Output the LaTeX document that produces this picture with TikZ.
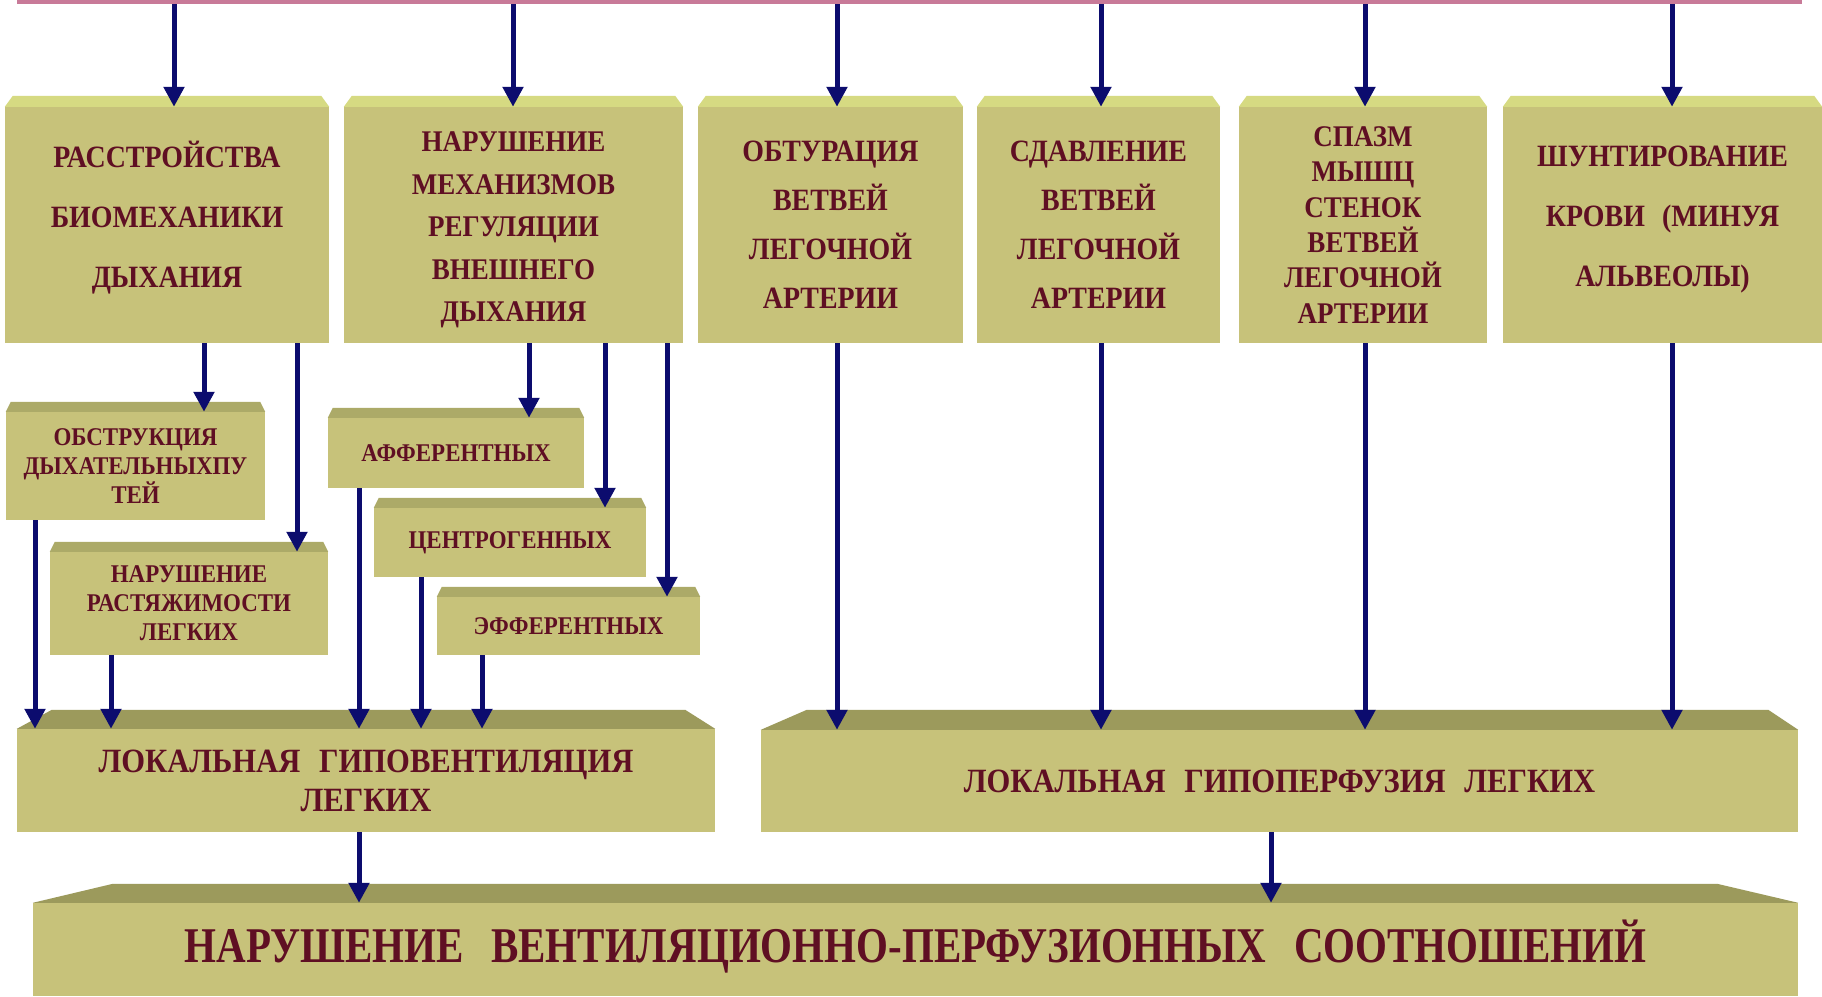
\documentclass[tikz,border=0pt]{standalone}
\usepackage{fontspec}
\setmainfont{Liberation Serif}[FakeStretch=0.9]
\newfontfamily\condfont{Liberation Serif}[FakeStretch=0.82]
\usetikzlibrary{arrows.meta}
\definecolor{facec}{RGB}{199,194,122}
\definecolor{lightbev}{RGB}{214,218,130}
\definecolor{darkbev}{RGB}{156,154,92}
\definecolor{midbev}{RGB}{172,170,104}
\definecolor{textc}{RGB}{95,15,35}
\definecolor{arrc}{RGB}{12,12,110}
\definecolor{pinkc}{RGB}{200,122,152}
% #1 node, #2 left slant, #3 right slant, #4 height, #5 colour
\newcommand{\bevtop}[5]{\fill[#5] (#1.north west) -- ([xshift=#2,yshift=#4]#1.north west) -- ([xshift=-#3,yshift=#4]#1.north east) -- (#1.north east) -- cycle;}
\newcommand{\wsp}{\hspace{0.55em}}
\begin{document}
\begin{tikzpicture}[x=1pt,y=-1pt,
  box/.style={fill=facec, inner sep=0pt, align=center, text=textc},
  txt/.style={inner sep=0pt, align=center, text=textc},
  topfont/.style={font=\bfseries\fontsize{31}{60}\selectfont},
  midfont/.style={font=\bfseries\fontsize{25.5}{29}\selectfont},
  lowfont/.style={font=\bfseries\fontsize{34}{39}\selectfont},
  arr/.style={draw=arrc, line width=5pt, -{Triangle[width=20pt,length=20pt]}}]
\useasboundingbox (0,0) rectangle (1822,996);
\fill[white] (0,0) rectangle (1822,996);
\node[fill=pinkc, inner sep=0pt, minimum width=1785pt, minimum height=4pt] (topbar) at (909.5,2) {};

% top row
\node[box, minimum width=324pt, minimum height=236pt] (b1) at (167,225) {};
\node[txt, topfont] (b1t) at ([yshift=7pt]b1.center) {РАССТРОЙСТВА\\БИОМЕХАНИКИ\\ДЫХАНИЯ};
\node[box, minimum width=339pt, minimum height=236pt] (b2) at (513.5,225) {};
\node[txt, font=\bfseries\fontsize{30}{42.5}\selectfont] (b2t) at ([yshift=-5pt]b2.center)
  {НАРУШЕНИЕ\\МЕХАНИЗМОВ\\РЕГУЛЯЦИИ\\ВНЕШНЕГО\\ДЫХАНИЯ};
\node[box, font=\bfseries\fontsize{31}{49}\selectfont, minimum width=265pt, minimum height=236pt] (b3) at (830.5,225)
  {ОБТУРАЦИЯ\\ВЕТВЕЙ\\ЛЕГОЧНОЙ\\АРТЕРИИ};
\node[box, font=\bfseries\fontsize{31}{49}\selectfont, minimum width=243pt, minimum height=236pt] (b4) at (1098.5,225)
  {СДАВЛЕНИЕ\\ВЕТВЕЙ\\ЛЕГОЧНОЙ\\АРТЕРИИ};
\node[box, font=\bfseries\fontsize{30}{35.3}\selectfont, minimum width=248pt, minimum height=236pt] (b5) at (1363,225)
  {СПАЗМ\\МЫШЦ\\СТЕНОК\\ВЕТВЕЙ\\ЛЕГОЧНОЙ\\АРТЕРИИ};
\node[box, minimum width=319pt, minimum height=236pt] (b6) at (1662.5,225) {};
\node[txt, topfont] (b6t) at ([yshift=5pt]b6.center) {ШУНТИРОВАНИЕ\\КРОВИ\wsp(МИНУЯ\\АЛЬВЕОЛЫ)};
\foreach \n in {b1,b2,b3,b4,b5,b6}{\bevtop{\n}{8pt}{8pt}{11pt}{lightbev}}

% middle boxes
\node[box, midfont, minimum width=259pt, minimum height=108pt] (m1) at (135.5,466)
  {ОБСТРУКЦИЯ\\ДЫХАТЕЛЬНЫХПУ\\ТЕЙ};
\node[box, midfont, minimum width=278pt, minimum height=103pt] (m2) at (189,603.5)
  {НАРУШЕНИЕ\\РАСТЯЖИМОСТИ\\ЛЕГКИХ};
\node[box, midfont, minimum width=256pt, minimum height=70pt] (m3) at (456,453) {АФФЕРЕНТНЫХ};
\node[box, midfont, minimum width=272pt, minimum height=69pt] (m4) at (510,542.5) {ЦЕНТРОГЕННЫХ};
\node[box, midfont, minimum width=263pt, minimum height=58pt] (m5) at (568.5,626) {ЭФФЕРЕНТНЫХ};
\foreach \n in {m1,m2,m3,m4,m5}{\bevtop{\n}{5pt}{5pt}{10pt}{midbev}}

% lower boxes
\node[box, lowfont, minimum width=698pt, minimum height=103pt] (v) at (366,780.5)
  {ЛОКАЛЬНАЯ\wsp ГИПОВЕНТИЛЯЦИЯ\\ЛЕГКИХ};
\node[box, lowfont, minimum width=1037pt, minimum height=102pt] (p) at (1279.5,781)
  {ЛОКАЛЬНАЯ\wsp ГИПОПЕРФУЗИЯ\wsp ЛЕГКИХ};
\node[box, minimum width=1765pt, minimum height=93pt] (n) at (915.5,949.5) {};
\node[txt, font=\condfont\bfseries\fontsize{50}{60}\selectfont] (nt) at ([yshift=3pt]n.center)
  {НАРУШЕНИЕ\wsp ВЕНТИЛЯЦИОННО-ПЕРФУЗИОННЫХ\wsp СООТНОШЕНИЙ};
\bevtop{v}{35pt}{30pt}{19pt}{darkbev}
\bevtop{p}{46pt}{30pt}{20pt}{darkbev}
\bevtop{n}{80pt}{81pt}{19pt}{darkbev}

% x positions of connectors
\foreach \nm/\xx in {T1/174,T2/513,T3/837,T4/1101,T5/1365,T6/1672,
  A1/204,A2/297,A3/529,A4/605,A5/667,
  V1/35,V2/111,V3/359,V4/421,V5/482,P1/1271}
  {\coordinate (\nm) at (\xx,0);}

% arrows
\foreach \t/\b in {T1/b1,T2/b2,T3/b3,T4/b4,T5/b5,T6/b6}
  {\draw[arr] (topbar.south -| \t) -- (\b.north -| \t);}
\draw[arr] (b1.south -| A1) -- (m1.north -| A1);
\draw[arr] (b1.south -| A2) -- (m2.north -| A2);
\draw[arr] (b2.south -| A3) -- (m3.north -| A3);
\draw[arr] (b2.south -| A4) -- (m4.north -| A4);
\draw[arr] (b2.south -| A5) -- (m5.north -| A5);
\draw[arr] (m1.south -| V1) -- (v.north -| V1);
\draw[arr] (m2.south -| V2) -- (v.north -| V2);
\draw[arr] (m3.south -| V3) -- (v.north -| V3);
\draw[arr] (m4.south -| V4) -- (v.north -| V4);
\draw[arr] (m5.south -| V5) -- (v.north -| V5);
\foreach \t/\b in {T3/b3,T4/b4,T5/b5,T6/b6}
  {\draw[arr] (\b.south -| \t) -- (p.north -| \t);}
\draw[arr] (v.south -| V3) -- (n.north -| V3);
\draw[arr] (p.south -| P1) -- (n.north -| P1);
\end{tikzpicture}
\end{document}
